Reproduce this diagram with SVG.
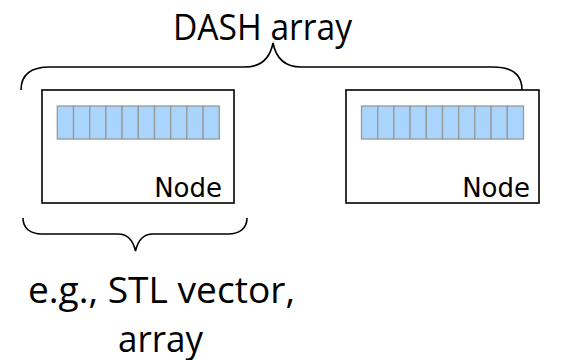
<svg xmlns="http://www.w3.org/2000/svg" width="567" height="360" viewBox="0 0 567 360">
  <style>
    .box { fill: #ffffff; stroke: #000000; stroke-width: 1.6; }
    .cell { fill: #a9d4fb; stroke: #999999; stroke-width: 1.3; }
    .brace { fill: none; stroke: #000000; stroke-width: 1.6; }
    .label { font-family: "Open Sans", "Liberation Sans", sans-serif; fill: #000000; }
    .node-label { font-family: "DejaVu Sans", sans-serif; font-size: 26px; fill: #000000; }
  </style>
  <defs>
    <g id="cells">
      <rect class="cell" x="0" y="0" width="16.2" height="33"/>
      <rect class="cell" x="16.2" y="0" width="16.2" height="33"/>
      <rect class="cell" x="32.4" y="0" width="16.2" height="33"/>
      <rect class="cell" x="48.6" y="0" width="16.2" height="33"/>
      <rect class="cell" x="64.8" y="0" width="16.2" height="33"/>
      <rect class="cell" x="81" y="0" width="16.2" height="33"/>
      <rect class="cell" x="97.2" y="0" width="16.2" height="33"/>
      <rect class="cell" x="113.4" y="0" width="16.2" height="33"/>
      <rect class="cell" x="129.6" y="0" width="16.2" height="33"/>
      <rect class="cell" x="145.8" y="0" width="16.2" height="33"/>
    </g>
  </defs>

  <text class="label" x="173" y="40" font-size="36" textLength="179" lengthAdjust="spacingAndGlyphs">DASH array</text>

  <g id="connectors">
    <!-- top brace spanning both nodes -->
    <path class="brace" d="M21,90 C21,75 30,67 50,67 L245,67 C262,67 270,58 273,43 C276,58 284,67 301,67 L493,67 C513,67 522,75 522,90"/>
    <!-- bottom brace under the first node -->
    <path class="brace" d="M23,218 C23,228 30,234 42,234 L118,234 C128,234 133,240 135.5,251 C138,240 143,234 153,234 L228,234 C240,234 247,228 247,218"/>
  </g>

  <g id="node-left">
    <rect class="box" x="42" y="90" width="192" height="113"/>
    <use href="#cells" x="57.3" y="106"/>
    <text class="node-label" x="222" y="197" text-anchor="end">Node</text>
  </g>

  <g id="node-right">
    <rect class="box" x="346" y="90" width="193" height="113"/>
    <use href="#cells" x="361.5" y="106"/>
    <text class="node-label" x="530" y="197" text-anchor="end">Node</text>
  </g>

  <text class="label" x="28" y="303" font-size="37" textLength="267" lengthAdjust="spacingAndGlyphs">e.g., STL vector,</text>
  <text class="label" x="118" y="352" font-size="37" textLength="85" lengthAdjust="spacingAndGlyphs">array</text>
</svg>
